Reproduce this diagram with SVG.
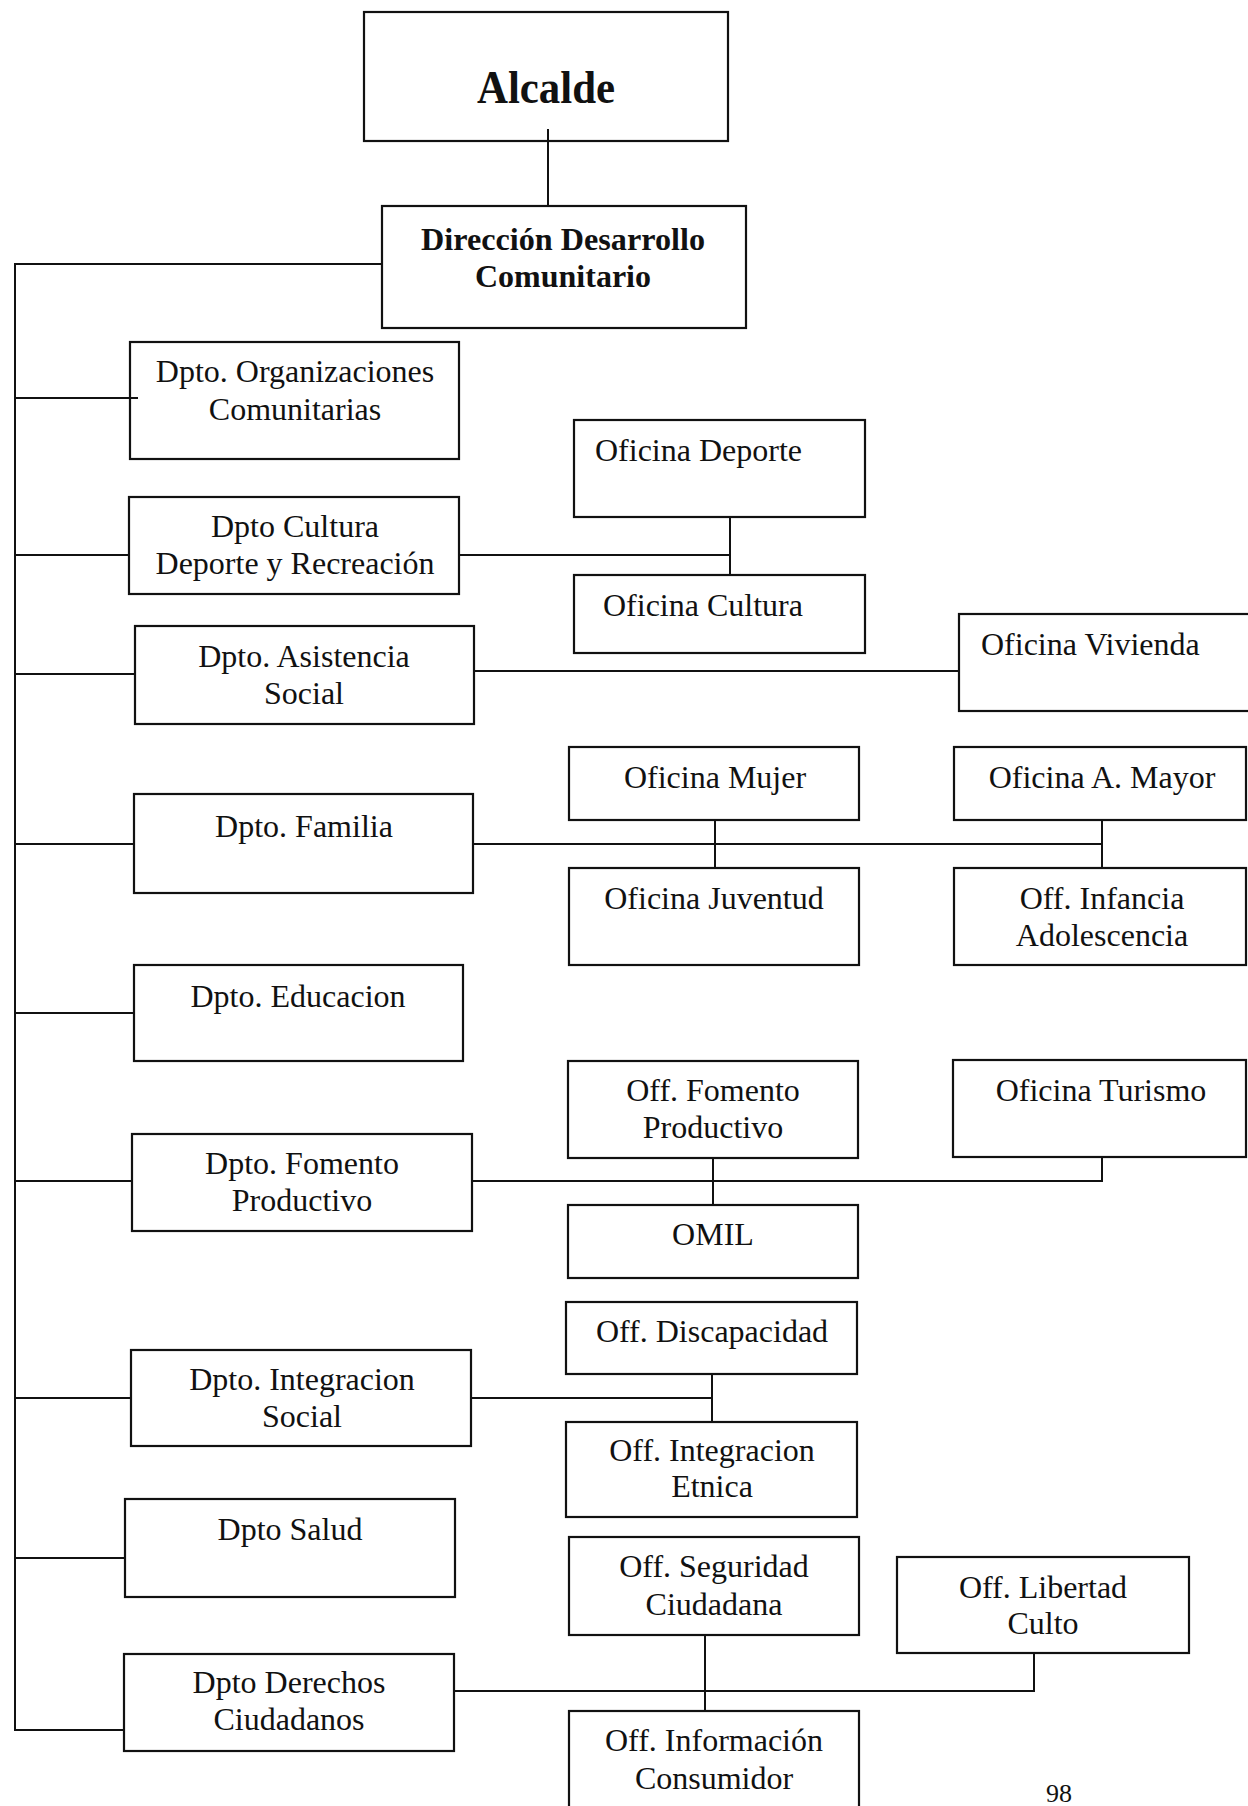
<svg xmlns="http://www.w3.org/2000/svg" width="1248" height="1806" viewBox="0 0 1248 1806">
<style>
.box{fill:#fff;stroke:#111;stroke-width:2.2}
.ln{fill:none;stroke:#111;stroke-width:2}
text{font-family:"Liberation Serif","Times New Roman",serif;font-size:32px;fill:#111}
.c{text-anchor:middle}
.b{font-weight:bold}
</style>
<rect width="1248" height="1806" fill="#fff"/>
<g id="alcalde"><rect class="box" x="364" y="12" width="364" height="129"/><text class="c b" x="546" y="103" style="font-size:46px" textLength="138" lengthAdjust="spacingAndGlyphs">Alcalde</text></g>
<g id="direccion"><rect class="box" x="382" y="206" width="364" height="122"/><text class="c b" x="563" y="250" textLength="284" lengthAdjust="spacingAndGlyphs">Dirección Desarrollo</text><text class="c b" x="563" y="287" textLength="176" lengthAdjust="spacingAndGlyphs">Comunitario</text></g>
<g id="dpto-organizaciones"><rect class="box" x="130" y="342" width="329" height="117"/><text class="c" x="295" y="382">Dpto. Organizaciones</text><text class="c" x="295" y="420">Comunitarias</text></g>
<g id="dpto-cultura"><rect class="box" x="129" y="497" width="330" height="97"/><text class="c" x="295" y="537">Dpto Cultura</text><text class="c" x="295" y="574">Deporte y Recreación</text></g>
<g id="oficina-deporte"><rect class="box" x="574" y="420" width="291" height="97"/><text x="595" y="461">Oficina Deporte</text></g>
<g id="oficina-cultura"><rect class="box" x="574" y="575" width="291" height="78"/><text x="603" y="616">Oficina Cultura</text></g>
<g id="dpto-asistencia"><rect class="box" x="135" y="626" width="339" height="98"/><text class="c" x="304" y="667">Dpto. Asistencia</text><text class="c" x="304" y="704">Social</text></g>
<g id="oficina-vivienda"><rect class="box" x="959" y="614" width="300" height="97"/><text x="981" y="655">Oficina Vivienda</text></g>
<g id="dpto-familia"><rect class="box" x="134" y="794" width="339" height="99"/><text class="c" x="304" y="837">Dpto. Familia</text></g>
<g id="oficina-mujer"><rect class="box" x="569" y="747" width="290" height="73"/><text class="c" x="715" y="788">Oficina Mujer</text></g>
<g id="oficina-juventud"><rect class="box" x="569" y="868" width="290" height="97"/><text class="c" x="714" y="909">Oficina Juventud</text></g>
<g id="oficina-amayor"><rect class="box" x="954" y="747" width="292" height="73"/><text class="c" x="1102" y="788">Oficina A. Mayor</text></g>
<g id="off-infancia"><rect class="box" x="954" y="868" width="292" height="97"/><text class="c" x="1102" y="909">Off. Infancia</text><text class="c" x="1102" y="946">Adolescencia</text></g>
<g id="dpto-educacion"><rect class="box" x="134" y="965" width="329" height="96"/><text class="c" x="298" y="1007">Dpto. Educacion</text></g>
<g id="off-fomento"><rect class="box" x="568" y="1061" width="290" height="97"/><text class="c" x="713" y="1101">Off. Fomento</text><text class="c" x="713" y="1138">Productivo</text></g>
<g id="oficina-turismo"><rect class="box" x="953" y="1060" width="293" height="97"/><text class="c" x="1101" y="1101">Oficina Turismo</text></g>
<g id="dpto-fomento"><rect class="box" x="132" y="1134" width="340" height="97"/><text class="c" x="302" y="1174">Dpto. Fomento</text><text class="c" x="302" y="1211">Productivo</text></g>
<g id="omil"><rect class="box" x="568" y="1205" width="290" height="73"/><text class="c" x="713" y="1245">OMIL</text></g>
<g id="off-discapacidad"><rect class="box" x="566" y="1302" width="291" height="72"/><text class="c" x="712" y="1342">Off. Discapacidad</text></g>
<g id="off-integracion"><rect class="box" x="566" y="1422" width="291" height="95"/><text class="c" x="712" y="1461">Off. Integracion</text><text class="c" x="712" y="1497">Etnica</text></g>
<g id="dpto-integracion"><rect class="box" x="131" y="1350" width="340" height="96"/><text class="c" x="302" y="1390">Dpto. Integracion</text><text class="c" x="302" y="1427">Social</text></g>
<g id="dpto-salud"><rect class="box" x="125" y="1499" width="330" height="98"/><text class="c" x="290" y="1540">Dpto Salud</text></g>
<g id="off-seguridad"><rect class="box" x="569" y="1537" width="290" height="98"/><text class="c" x="714" y="1577">Off. Seguridad</text><text class="c" x="714" y="1615">Ciudadana</text></g>
<g id="off-libertad"><rect class="box" x="897" y="1557" width="292" height="96"/><text class="c" x="1043" y="1598">Off. Libertad</text><text class="c" x="1043" y="1634">Culto</text></g>
<g id="dpto-derechos"><rect class="box" x="124" y="1654" width="330" height="97"/><text class="c" x="289" y="1693">Dpto Derechos</text><text class="c" x="289" y="1730">Ciudadanos</text></g>
<g id="off-informacion"><rect class="box" x="569" y="1711" width="290" height="110"/><text class="c" x="714" y="1751">Off. Información</text><text class="c" x="714" y="1789">Consumidor</text></g>
<g id="connectors">
<line class="ln" x1="548" y1="129" x2="548" y2="206"/>
<polyline class="ln" points="382,264 15,264 15,1730 124,1730"/>
<line class="ln" x1="15" y1="398" x2="138" y2="398"/>
<line class="ln" x1="15" y1="555" x2="129" y2="555"/>
<line class="ln" x1="459" y1="555" x2="730" y2="555"/>
<line class="ln" x1="730" y1="517" x2="730" y2="575"/>
<line class="ln" x1="15" y1="674" x2="135" y2="674"/>
<line class="ln" x1="474" y1="671" x2="959" y2="671"/>
<line class="ln" x1="15" y1="844" x2="134" y2="844"/>
<line class="ln" x1="473" y1="844" x2="1102" y2="844"/>
<line class="ln" x1="715" y1="820" x2="715" y2="868"/>
<line class="ln" x1="1102" y1="820" x2="1102" y2="868"/>
<line class="ln" x1="15" y1="1013" x2="134" y2="1013"/>
<line class="ln" x1="15" y1="1181" x2="132" y2="1181"/>
<polyline class="ln" points="472,1181 1102,1181 1102,1157"/>
<line class="ln" x1="713" y1="1158" x2="713" y2="1205"/>
<line class="ln" x1="15" y1="1398" x2="131" y2="1398"/>
<line class="ln" x1="471" y1="1398" x2="712" y2="1398"/>
<line class="ln" x1="712" y1="1374" x2="712" y2="1422"/>
<line class="ln" x1="15" y1="1558" x2="125" y2="1558"/>
<polyline class="ln" points="454,1691 1034,1691 1034,1653"/>
<line class="ln" x1="705" y1="1635" x2="705" y2="1711"/>
</g>
<text class="c" x="1059" y="1802" style="font-size:26px">98</text>
</svg>
